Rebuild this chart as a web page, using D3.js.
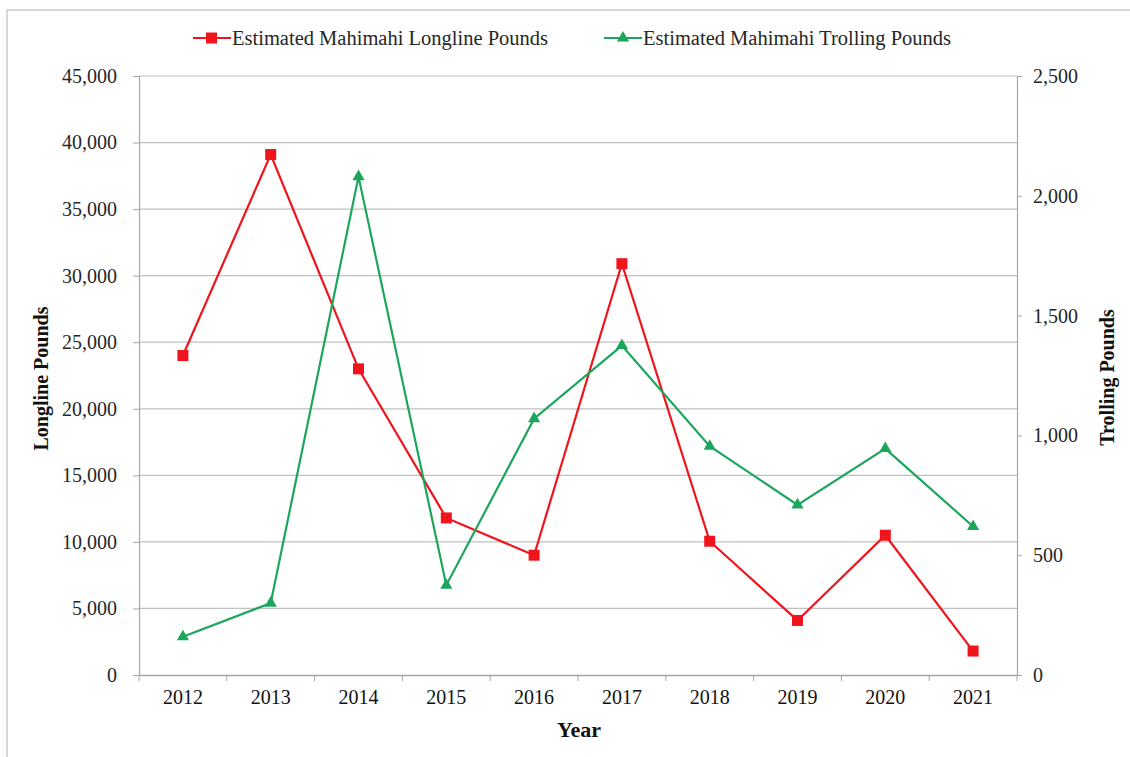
<!DOCTYPE html>
<html>
<head>
<meta charset="utf-8">
<script src="https://cdn.jsdelivr.net/npm/d3@7"></script>
<style>
  html, body { margin: 0; padding: 0; background: #fff; }
  svg { display: block; }
  text { font-family: "Liberation Serif", "Times New Roman", serif; }
</style>
</head>
<body>
<svg id="chart" width="1130" height="757"></svg>
<script>
const years = ["2012","2013","2014","2015","2016","2017","2018","2019","2020","2021"];
const longlinePounds = [24000, 39100, 23000, 11800, 9000, 30900, 10050, 4100, 10500, 1800];
const trollingPounds = [160, 300, 2080, 375, 1070, 1375, 955, 710, 945, 620];
const leftTicks = [0, 5000, 10000, 15000, 20000, 25000, 30000, 35000, 40000, 45000];
const rightTicks = [0, 500, 1000, 1500, 2000, 2500];
const seriesNames = ["Estimated Mahimahi Longline Pounds", "Estimated Mahimahi Trolling Pounds"];

const svg = d3.select("#chart");
const L = 139, R = 1017, T = 76, B = 675;
const red = "#f0141c", green = "#1ca65c";
const textColor = "#262626";

// outer border
svg.append("path").attr("d", `M7,757 L7,10 L1130,10`)
  .attr("fill", "none").attr("stroke", "#c9c9c9").attr("stroke-width", 1.5);

const x = d3.scaleBand().domain(years).range([L, R]).padding(0);
const yL = d3.scaleLinear().domain([0, 45000]).range([B, T]);
const yR = d3.scaleLinear().domain([0, 2500]).range([B, T]);
const fmt = d3.format(",");

// gridlines
svg.append("g").selectAll("line").data(leftTicks.filter(d => d > 0)).join("line")
  .attr("x1", L).attr("x2", R).attr("y1", d => yL(d)).attr("y2", d => yL(d))
  .attr("stroke", "#c0c0c0").attr("stroke-width", 1.2);

// left axis
const gl = svg.append("g").attr("transform", `translate(${L},0)`)
  .call(d3.axisLeft(yL).tickValues(leftTicks).tickFormat(fmt).tickSize(6).tickPadding(16));
// right axis
const gr = svg.append("g").attr("transform", `translate(${R},0)`)
  .call(d3.axisRight(yR).tickValues(rightTicks).tickFormat(fmt).tickSize(5).tickPadding(11));
// bottom axis
const gb = svg.append("g").attr("transform", `translate(0,${B})`)
  .call(d3.axisBottom(x).tickSize(0).tickPadding(15));
// category boundary ticks
svg.append("g").selectAll("line").data(years.concat(["end"])).join("line")
  .attr("x1", (d, i) => L + i * x.bandwidth()).attr("x2", (d, i) => L + i * x.bandwidth())
  .attr("y1", B).attr("y2", B + 6).attr("stroke", "#a6a6a6");

[gl, gr, gb].forEach(g => {
  g.attr("font-family", null);
  g.selectAll(".domain").attr("stroke", "#a6a6a6").attr("stroke-width", 1.2);
  g.selectAll(".tick line").attr("stroke", "#a6a6a6");
  g.selectAll("text").attr("font-size", 20).attr("fill", textColor);
});
gb.selectAll("text").attr("fill", "#111");
gb.selectAll(".domain").attr("stroke-width", 1.5);

// axis titles
svg.append("text").attr("transform", `translate(48,${(T + B) / 2 + 3}) rotate(-90)`)
  .attr("text-anchor", "middle").attr("font-size", 20).attr("font-weight", "bold")
  .attr("fill", "#111").text("Longline Pounds");
svg.append("text").attr("transform", `translate(1114,${(T + B) / 2 + 2}) rotate(-90)`)
  .attr("text-anchor", "middle").attr("font-size", 20).attr("font-weight", "bold")
  .attr("fill", "#111").text("Trolling Pounds");
svg.append("text").attr("x", (L + R) / 2 + 1).attr("y", 737)
  .attr("text-anchor", "middle").attr("font-size", 22).attr("font-weight", "bold")
  .attr("fill", "#111").text("Year");

const cx = d => x(d) + x.bandwidth() / 2;

// longline series
const lineL = d3.line().x((d, i) => cx(years[i])).y(d => yL(d));
svg.append("path").datum(longlinePounds).attr("d", lineL)
  .attr("fill", "none").attr("stroke", red).attr("stroke-width", 2.2);
svg.append("g").selectAll("rect").data(longlinePounds).join("rect")
  .attr("x", (d, i) => cx(years[i]) - 5.5).attr("y", d => yL(d) - 5.5)
  .attr("width", 11).attr("height", 11).attr("fill", red);

// trolling series
const lineR = d3.line().x((d, i) => cx(years[i])).y(d => yR(d));
svg.append("path").datum(trollingPounds).attr("d", lineR)
  .attr("fill", "none").attr("stroke", green).attr("stroke-width", 2.2);
const tri = d3.symbol().type(d3.symbolTriangle).size(64);
svg.append("g").selectAll("path").data(trollingPounds).join("path")
  .attr("d", tri).attr("transform", (d, i) => `translate(${cx(years[i])},${yR(d)})`)
  .attr("fill", green);

// legend
const lg = svg.append("g");
const legendItems = [
  { name: seriesNames[0], color: red, x0: 193, type: "rect" },
  { name: seriesNames[1], color: green, x0: 604, type: "tri" }
];
legendItems.forEach(it => {
  const ly = 38;
  lg.append("line").attr("x1", it.x0).attr("x2", it.x0 + 38).attr("y1", ly).attr("y2", ly)
    .attr("stroke", it.color).attr("stroke-width", 2.2);
  if (it.type === "rect") {
    lg.append("rect").attr("x", it.x0 + 13).attr("y", ly - 5.5).attr("width", 11).attr("height", 11).attr("fill", it.color);
  } else {
    lg.append("path").attr("d", tri).attr("transform", `translate(${it.x0 + 19},${ly})`).attr("fill", it.color);
  }
  lg.append("text").attr("x", it.x0 + 39).attr("y", ly + 7).attr("font-size", 20.5)
    .attr("fill", textColor).text(it.name);
});
</script>
</body>
</html>
